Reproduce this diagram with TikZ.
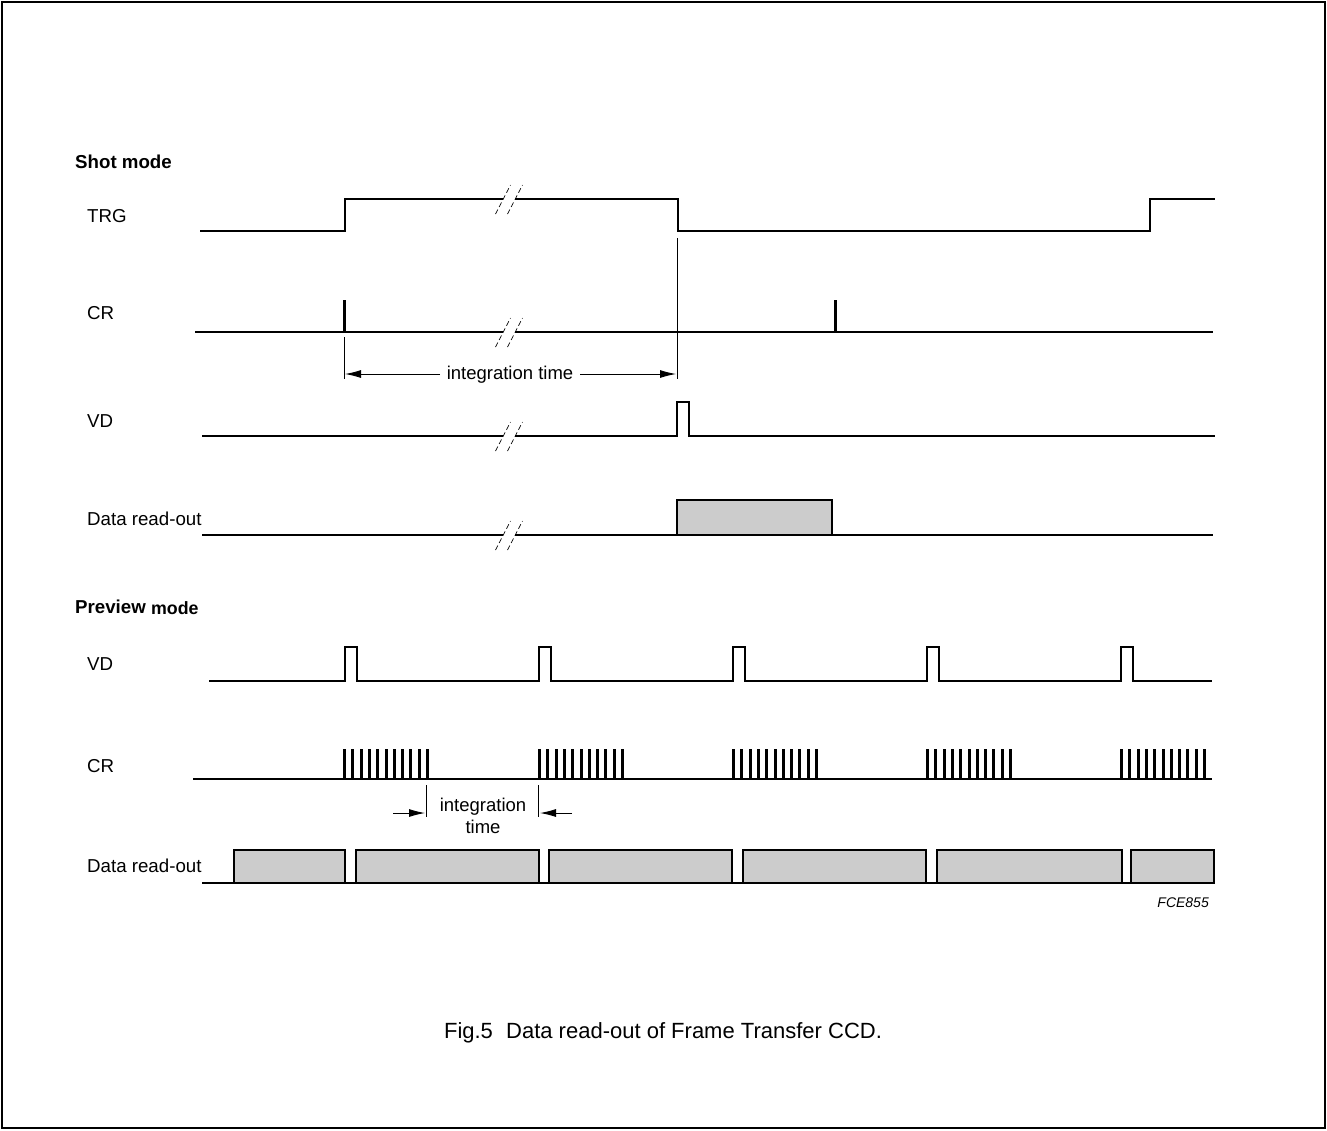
\documentclass[tikz,border=0pt]{standalone}
\usepackage{fontspec}
\setmainfont{Liberation Sans}
\usetikzlibrary{arrows.meta}
\definecolor{readgray}{HTML}{CCCCCC}
\begin{document}
\begin{tikzpicture}[x=1pt,y=-1pt,
  sig/.style={line width=2.6pt, line join=miter},
  tick/.style={line width=3pt},
  thinln/.style={line width=0.9pt},
  lbl/.style={anchor=base west, inner sep=0pt, font=\fontsize{18.7}{22}\selectfont},
  head/.style={anchor=base west, inner sep=0pt, font=\fontsize{18.7}{22}\selectfont\bfseries},
  dimtext/.style={anchor=base, inner sep=0pt, font=\fontsize{18.5}{22}\selectfont},
  rbox/.style={sig, fill=readgray},
  dimarrow/.style={thinln, -{Latex[length=16pt,width=8pt]}},
  brk/.pic={\draw[line width=0.7pt, dash pattern=on 5pt off 3pt] (-13.5,15) -- (1.5,-14) (-1.5,15) -- (13.5,-14);}
]
\useasboundingbox (0,0) rectangle (1327,1130);
\draw[line width=1.2pt] (2,2) rectangle (1325,1128);

% ---------------- Shot mode ----------------
\node[head] (shot) at (75,168) {Shot mode};
\node[lbl] (trg) at (87,222) {TRG};
\node[lbl] (cr1) at (87,319) {CR};
\node[lbl] (vd1) at (87,427) {VD};
\node[lbl] (dr1) at (87,525) {Data read-out};

% TRG
\draw[sig] (200,231) -- (345,231) -- (345,199) -- (503,199);
\draw[sig] (515,199) -- (678,199) -- (678,231) -- (1150,231) -- (1150,199) -- (1215,199);
\pic at (509,199) {brk};

% CR
\draw[sig] (195,332) -- (503,332);
\draw[sig] (515,332) -- (1213,332);
\draw[tick] (344.5,300) -- (344.5,332);
\draw[tick] (835.5,300) -- (835.5,332);
\pic at (509,332) {brk};

% integration time (shot)
\draw[thinln] (344,337) -- (344,379);
\draw[thinln] (677,238) -- (677,379);
\coordinate (itl) at (345,374);
\coordinate (itr) at (676,374);
\node[dimtext] (it1) at (510,379) {integration time};
\coordinate (itla) at (440,374);
\coordinate (itra) at (580,374);
\draw[dimarrow] (itla) -- (itl);
\draw[dimarrow] (itra) -- (itr);

% VD
\draw[sig] (202,436) -- (503,436);
\draw[sig] (515,436) -- (677,436) -- (677,402) -- (689,402) -- (689,436) -- (1215,436);
\pic at (509,436) {brk};

% Data read-out
\draw[sig] (202,535) -- (503,535);
\draw[sig] (515,535) -- (1213,535);
\draw[rbox] (677,535) rectangle (832,500);
\pic at (509,535) {brk};

% ---------------- Preview mode ----------------
\node[head] (prev) at (75,613) {Preview \fontsize{17.8}{21}\selectfont\raisebox{-1.5pt}{mode}};
\node[lbl] (vd2) at (87,670) {VD};
\node[lbl] (cr2) at (87,772) {CR};
\node[lbl] (dr2) at (87,872) {Data read-out};

% VD
\draw[sig] (209,681)
  -- (345,681) -- (345,647) -- (357,647) -- (357,681)
  -- (539,681) -- (539,647) -- (551,647) -- (551,681)
  -- (733,681) -- (733,647) -- (745,647) -- (745,681)
  -- (927,681) -- (927,647) -- (939,647) -- (939,681)
  -- (1121,681) -- (1121,647) -- (1133,647) -- (1133,681)
  -- (1212,681);

% CR bursts
\draw[sig] (193,779) -- (1212,779);
\foreach \s in {344,539,733,927,1121}{
  \foreach \k in {0,...,10}{
    \pgfmathsetmacro{\tx}{\s+round(\k*8.3)+0.5}
    \draw[tick] (\tx,749) -- (\tx,779);
  }
}

% integration time (preview)
\draw[thinln] (426,785) -- (426,817);
\draw[thinln] (538,785) -- (538,817);
\coordinate (pl0) at (393,813);
\coordinate (pl1) at (425,813);
\coordinate (pr0) at (572,813);
\coordinate (pr1) at (540,813);
\draw[dimarrow] (pl0) -- (pl1);
\draw[dimarrow] (pr0) -- (pr1);
\node[dimtext] (it2a) at (483,811) {integration};
\node[dimtext] (it2b) at (483,833) {time};

% Data read-out
\draw[sig] (202,883) -- (1213,883);
\foreach \a/\b in {234/345,356/539,549/732,743/926,937/1122,1131/1214}{
  \draw[rbox] (\a,883) rectangle (\b,850);
}

\node[anchor=base east, inner sep=0pt, font=\fontsize{14}{17}\selectfont\itshape] (code) at (1209,907) {FCE855};

% caption
\node[anchor=base, inner sep=0pt, font=\fontsize{22}{26}\selectfont] (cap) at (663,1038) {Fig.5\hspace{0.6em}Data read-out of Frame Transfer CCD.};
\end{tikzpicture}
\end{document}
